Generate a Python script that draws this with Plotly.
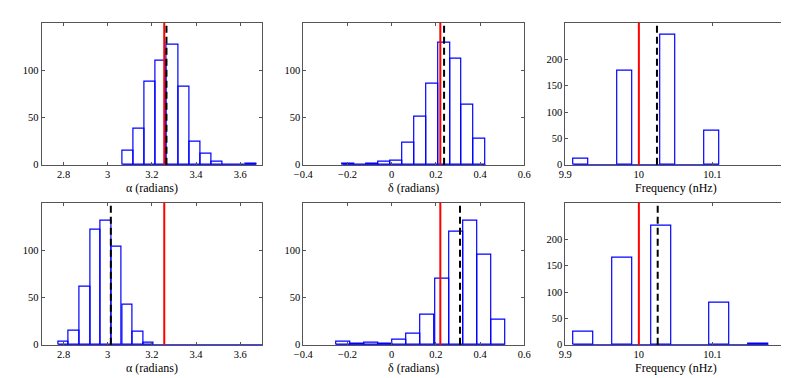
import plotly.graph_objects as go
from plotly.subplots import make_subplots

# ---------------- data ----------------
# alpha (radians) histograms
alpha_top_centers = [3.091, 3.142, 3.192, 3.243, 3.293, 3.344, 3.394, 3.445, 3.495, 3.546, 3.596, 3.647]
alpha_top_counts = [15, 38, 88, 110, 127, 82, 24, 12, 3, 0, 0, 1]
alpha_top_width = 0.0505
alpha_bot_centers = [2.800, 2.848, 2.896, 2.944, 2.992, 3.040, 3.089, 3.137, 3.185]
alpha_bot_counts = [3, 15, 61, 121, 131, 103, 42, 14, 2]
alpha_bot_width = 0.0481

# delta (radians) histograms
delta_top_centers = [-0.195, -0.141, -0.087, -0.033, 0.021, 0.074, 0.128, 0.182, 0.236, 0.290, 0.344, 0.398]
delta_top_counts = [1, 0, 1, 3, 4, 23, 51, 86, 129, 112, 63, 27]
delta_top_width = 0.0539
delta_bot_centers = [-0.220, -0.156, -0.092, -0.029, 0.035, 0.099, 0.163, 0.227, 0.291, 0.354, 0.418, 0.482]
delta_bot_counts = [3, 1, 2, 1, 5, 12, 32, 70, 119, 131, 95, 26]
delta_bot_width = 0.0638

# frequency (nHz) histograms
freq_top_centers = [9.9211, 9.9805, 10.0399, 10.0992]
freq_top_counts = [12, 178, 247, 64]
freq_top_width = 0.0204
freq_bot_centers = [9.9243, 9.9774, 10.0303, 10.1097, 10.1627]
freq_bot_counts = [24, 166, 227, 80, 1]
freq_bot_width = 0.0268

# true values (red) and estimates (black dashed)
true_values = {"alpha": 3.256, "delta": 0.22, "freq": 10.0}
est_top = {"alpha": 3.266, "delta": 0.237, "freq": 10.0246}
est_bot = {"alpha": 3.014, "delta": 0.309, "freq": 10.0256}

# baseline extents of histogram bins
base_top = {"alpha": [3.066, 3.672], "delta": [-0.222, 0.425], "freq": [9.9109, 10.109]}
base_bot = {"alpha": [2.776, 3.7], "delta": [-0.252, 0.513], "freq": [9.9109, 10.176]}

x_ranges = {"alpha": [2.7, 3.7], "delta": [-0.4, 0.6], "freq": [9.9, 10.2]}
x_ticks = {"alpha": [2.8, 3.0, 3.2, 3.4, 3.6], "delta": [-0.4, -0.2, 0.0, 0.2, 0.4, 0.6], "freq": [9.9, 10.0, 10.1]}
x_ticktext = {"alpha": ["2.8", "3", "3.2", "3.4", "3.6"],
              "delta": ["\u22120.4", "\u22120.2", "0", "0.2", "0.4", "0.6"],
              "freq": ["9.9", "10", "10.1"]}
x_titles = {"alpha": "\u03b1 (radians)", "delta": "\u03b4 (radians)", "freq": "Frequency (nHz)"}
y_ranges = {"alpha": [0, 150], "delta": [0, 150], "freq": [0, 270]}
y_ticks = {"alpha": [0, 50, 100], "delta": [0, 50, 100], "freq": [0, 50, 100, 150, 200]}

# ---------------- figure ----------------
OFF = 8  # page body margin
W, H = 789 - OFF, 378 - OFF
fig = make_subplots(rows=2, cols=3)

panels = [
    (1, 1, "alpha", alpha_top_centers, alpha_top_counts, alpha_top_width, est_top, base_top),
    (1, 2, "delta", delta_top_centers, delta_top_counts, delta_top_width, est_top, base_top),
    (1, 3, "freq", freq_top_centers, freq_top_counts, freq_top_width, est_top, base_top),
    (2, 1, "alpha", alpha_bot_centers, alpha_bot_counts, alpha_bot_width, est_bot, base_bot),
    (2, 2, "delta", delta_bot_centers, delta_bot_counts, delta_bot_width, est_bot, base_bot),
    (2, 3, "freq", freq_bot_centers, freq_bot_counts, freq_bot_width, est_bot, base_bot),
]

col_px = [(41.5, 262.3), (303.3, 524.3), (565.3, 786.0)]
row_px = [(22.7, 164.7), (202.7, 344.7)]
title_y_px = [188, 368]

font = dict(family="Liberation Serif", size=12, color="black")
tick_font = dict(family="Liberation Serif", size=10.5, color="black")
blue = "#0000ff"

for (r, c, key, centers, counts, width, est, base) in panels:
    fig.add_trace(go.Scatter(x=base[key], y=[0, 0], mode="lines",
                             line=dict(color=blue, width=1.2), showlegend=False,
                             hoverinfo="skip"), row=r, col=c)
    fig.add_trace(go.Bar(x=centers, y=counts, width=width,
                         marker=dict(color="rgba(255,255,255,0)", line=dict(color=blue, width=1.2)),
                         showlegend=False), row=r, col=c)
    fig.add_vline(x=true_values[key], line=dict(color="#ff0000", width=2), row=r, col=c, layer="above")
    fig.add_vline(x=est[key], line=dict(color="black", width=2, dash="7px,4px"), row=r, col=c, layer="above")

    x0, x1 = col_px[c - 1]
    y0, y1 = row_px[r - 1]
    fig.update_xaxes(domain=[(x0 - OFF) / W, (x1 - OFF) / W], range=x_ranges[key], tickvals=x_ticks[key],
                     ticktext=x_ticktext[key], ticks="inside", ticklen=3, mirror="ticks",
                     showline=True, linecolor="#555", linewidth=1, tickcolor="#555",
                     showgrid=False, zeroline=False, tickfont=tick_font, automargin=False,
                     row=r, col=c)
    fig.update_yaxes(domain=[1 - (y1 - OFF) / H, 1 - (y0 - OFF) / H], range=y_ranges[key],
                     tickvals=y_ticks[key],
                     ticks="inside", ticklen=3, mirror="ticks", showline=True, linecolor="#555",
                     linewidth=1, tickcolor="#555", showgrid=False, zeroline=False,
                     tickfont=tick_font, automargin=False, row=r, col=c)
    fig.add_annotation(text=x_titles[key], xref="paper", yref="paper",
                       x=((x0 + x1) / 2 - OFF) / W, y=1 - (title_y_px[r - 1] - OFF) / H,
                       xanchor="center", yanchor="middle", showarrow=False, font=font)

fig.update_layout(width=W, height=H, margin=dict(l=0, r=0, t=0, b=0),
                  plot_bgcolor="white", paper_bgcolor="white", bargap=0, barmode="overlay",
                  font=font)

fig.write_html("out.html")
